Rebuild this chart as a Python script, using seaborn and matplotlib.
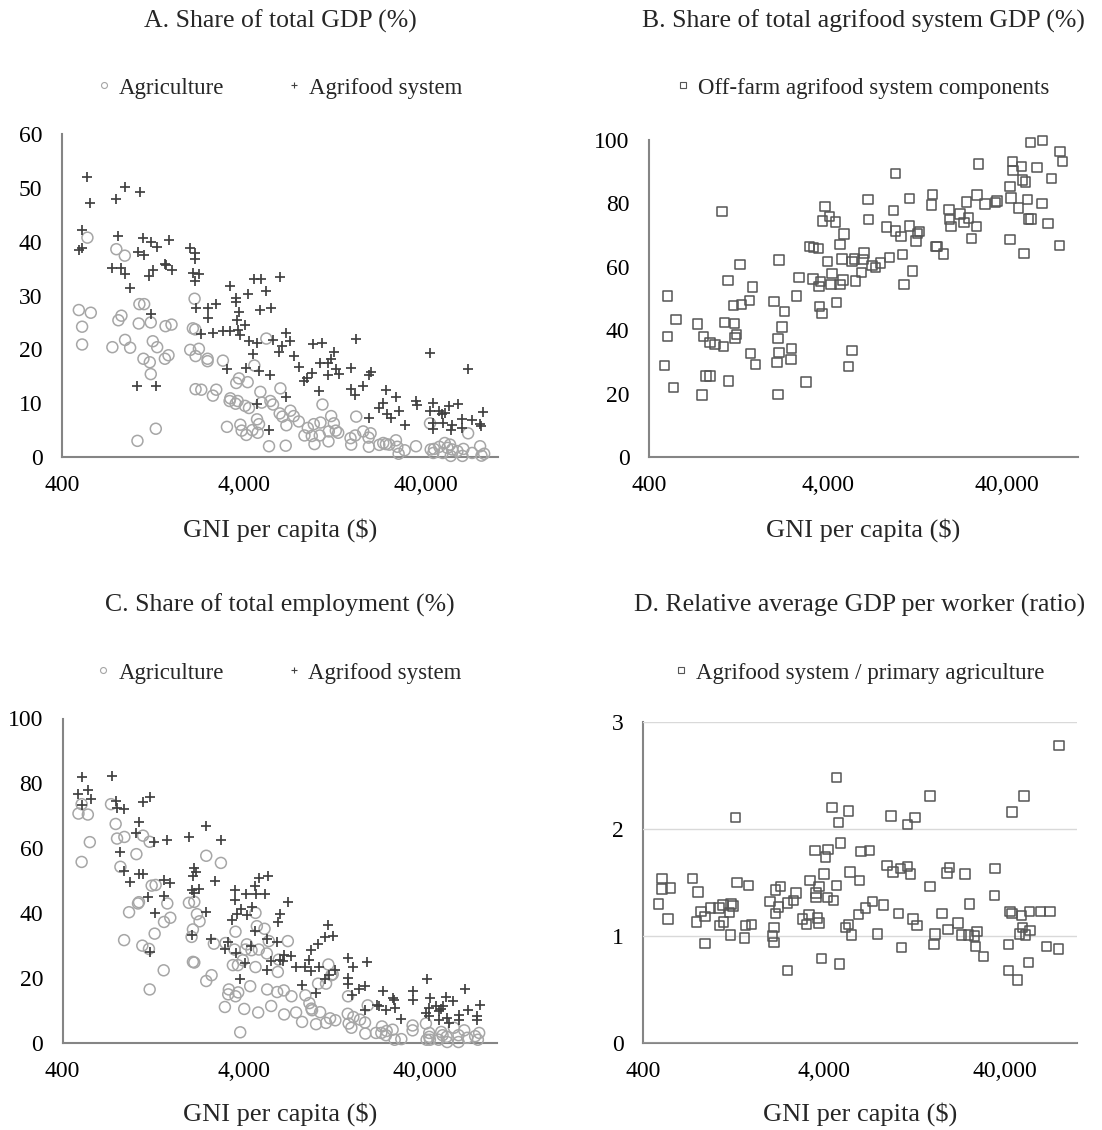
import matplotlib
matplotlib.use("Agg")
import matplotlib.pyplot as plt
from matplotlib.lines import Line2D
from matplotlib.ticker import NullLocator
import seaborn as sns

# A. share of total GDP (%)
gdp_agri_gni = [552, 495, 576, 516, 516, 796, 886, 849, 817, 757,
                889, 948, 1066, 1132, 1057, 1231, 1484, 1601, 1263, 1335,
                1122, 1216, 1472, 1541, 1231, 1040, 1312, 2144, 2098, 2162,
                2029, 2264, 2171, 2528, 2528, 3070, 2171, 2334, 2821, 2704,
                3371, 3341, 3699, 3605, 4060, 4270, 3636, 3761, 4199, 4570,
                4932, 5016, 5599, 5790, 5320, 6357, 4728, 4848, 4455, 4768,
                3827, 3892, 4128, 3231, 5503, 6800, 6300, 6519, 7217, 7528,
                6857, 8021, 8992, 9703, 10560, 8620, 9459, 9785, 10466, 10829,
                12091, 12507, 11733, 11687, 12820, 13217, 16603, 15452, 15583, 16394,
                18140, 19916, 19415, 19492, 22226, 23380, 24188, 25232, 27460, 27937,
                28412, 30661, 35396, 42270, 42647, 44097, 44489, 47593, 50938, 54484,
                52692, 55902, 54968, 49627, 59821, 63717, 64528, 68492, 72054, 79727,
                81120, 83912]
gdp_agri_share = [40.75, 27.3, 26.8, 24.2, 20.9, 38.6, 37.4, 26.25, 25.4, 20.4,
                  21.75, 20.3, 28.4, 28.4, 24.8, 25, 24.3, 24.6, 21.5, 20.4,
                  18.25, 17.6, 18.25, 18.9, 15.4, 3, 5.25, 29.4, 23.9, 23.7,
                  19.9, 20.1, 18.75, 18.25, 17.8, 17.9, 12.6, 12.5, 12.5, 11.4,
                  10.9, 10.4, 10.4, 9.9, 9.5, 9.1, 13.75, 14.6, 13.9, 17,
                  12.1, 10.1, 10.4, 9.75, 22, 12.75, 7, 6.1, 5, 4.5,
                  6, 4.9, 4.1, 5.6, 2, 2.1, 8.1, 7.5, 8.6, 7.6,
                  5.9, 6.6, 5.4, 6.1, 6.4, 4, 3.9, 2.4, 4, 9.75,
                  7.6, 6.25, 4.75, 2.9, 4.9, 4.5, 7.5, 3.5, 2.3, 4,
                  4.75, 4.4, 3.6, 1.9, 2.25, 2.6, 2.4, 2.3, 3.1, 1.9,
                  0.6, 1.25, 2, 6.25, 1.4, 0.75, 1.5, 1.9, 2.6, 2.3,
                  1.7, 1.4, 0.2, 0.75, 1.1, 0.2, 1.5, 4.4, 0.75, 2,
                  0.25, 0.6]
gdp_afs_gni = [552, 573, 516, 495, 516, 796, 889, 1071, 817, 757,
               849, 889, 948, 1053, 1132, 1122, 1231, 1340, 1541, 1263,
               1206, 1472, 1490, 1601, 1231, 1031, 1312, 2029, 2144, 2162,
               2098, 2264, 2162, 2171, 2324, 2539, 2539, 2797, 2704, 3070,
               3371, 3371, 3636, 3605, 3761, 3668, 4043, 3699, 3827, 4199,
               4570, 4995, 5320, 4932, 5647, 4270, 4728, 5790, 6357, 6800,
               7153, 6248, 6519, 4491, 3231, 4128, 4848, 5550, 7528, 8021,
               4728, 6800, 5503, 9617, 10829, 8620, 8916, 9459, 10560, 10426,
               11641, 11989, 12507, 11641, 12932, 13268, 16603, 15515, 15452, 16257,
               19415, 19916, 18070, 19415, 24188, 23380, 22226, 27460, 28412, 24607,
               25888, 30661, 35396, 35690, 42270, 44097, 42270, 47593, 49240, 51367,
               53588, 60598, 44097, 43713, 49627, 55902, 54968, 63717, 63717, 72054,
               68798, 79727, 83171, 81120]
gdp_afs_share = [52.1, 47.1, 42.1, 38.4, 38.9, 47.9, 50.1, 49.2, 41.1, 35.1,
                 35.2, 34, 31.4, 38.1, 37.5, 40.75, 39.9, 39, 40.25, 34.8,
                 33.6, 35.9, 35.6, 34.7, 26.6, 13.1, 13.25, 38.9, 37.9, 36.8,
                 34.2, 34, 32.75, 27.75, 22.9, 27.75, 25.75, 28.4, 23.1, 23.4,
                 31.7, 23.4, 29.5, 28.75, 26.9, 25.4, 24.6, 23.6, 22.6, 30.3,
                 33.1, 33.1, 30.9, 27.25, 27.6, 21.5, 21.1, 21.8, 33.4, 23.1,
                 21.5, 19.5, 20.7, 19.2, 16.4, 16.5, 16, 15.25, 18.75, 16.8,
                 9.9, 11.2, 5.1, 20.9, 21.2, 14.1, 14.6, 15.6, 17.5, 12.2,
                 17.4, 18.25, 19.5, 15.25, 16.4, 15.4, 22, 16.5, 12.6, 11.6,
                 15.3, 15.75, 13.1, 7.25, 12.5, 10.1, 9.1, 11.1, 8.6, 8,
                 7.3, 5.9, 10.4, 9.7, 19.3, 10, 8.6, 8.6, 7.9, 8.1,
                 9.5, 9.8, 6.4, 5.25, 6.4, 5.9, 5, 7, 5.4, 6.9,
                 16.4, 6.1, 8.4, 5.75]

# B. off-farm share of agrifood system GDP (%)
offfarm_gni = [507, 507, 566, 490, 547, 745, 807, 878, 936, 1044,
               835, 878, 790, 1023, 1108, 1290, 1057, 1206, 1237, 1211,
               1186, 1312, 1459, 1515, 1117, 1472, 1574, 2003, 2135, 2292,
               2217, 2106, 2135, 2072, 2106, 2507, 2494, 2680, 2763, 3019,
               3162, 3328, 3531, 3299, 3650, 3561, 3590, 3716, 3843, 3745,
               4092, 4418, 3992, 4218, 4164, 4686, 4870, 4686, 4908, 4790,
               4474, 5458, 5621, 6276, 6382, 6172, 5716, 5458, 5232, 6717,
               6744, 7063, 7397, 7854, 8838, 8472, 9580, 9580, 9338, 10253,
               10426, 10650, 11434, 11434, 12720, 13047, 12397, 11883, 15316, 15182,
               16039, 16330, 17771, 18996, 19168, 19492, 21858, 22995, 24390, 27007,
               23788, 25345, 27234, 27797, 30135, 34656, 35242, 41575, 43009, 43372,
               42270, 41575, 48176, 49046, 50711, 46597, 52024, 52903, 54694, 49870,
               54273, 63217, 59063, 62936, 67915, 70850, 79418, 82125, 78724]
offfarm_share = [50.8, 38.0, 43.4, 28.8, 22.0, 42.0, 38.1, 36.2, 35.5, 34.9,
                 25.5, 25.5, 19.5, 77.5, 55.7, 60.7, 42.4, 42.2, 38.7, 37.6,
                 47.8, 48.1, 49.4, 53.6, 24.0, 32.6, 29.1, 49.0, 62.2, 45.9,
                 41.0, 37.3, 32.9, 29.8, 19.7, 34.3, 30.7, 50.8, 56.7, 23.6,
                 66.4, 66.0, 65.7, 56.1, 55.4, 53.8, 47.5, 45.2, 79.0, 74.4,
                 75.8, 74.1, 61.6, 57.8, 54.4, 54.4, 55.9, 67.1, 70.4, 62.4,
                 48.7, 61.6, 62.4, 62.3, 64.3, 58.2, 55.5, 33.6, 28.6, 81.2,
                 74.9, 60.5, 59.8, 61.2, 63.0, 72.5, 71.3, 89.5, 77.7, 69.6,
                 63.8, 54.4, 81.6, 72.9, 70.5, 71.2, 68.2, 58.7, 82.8, 79.5,
                 66.4, 66.4, 64.1, 78.0, 74.9, 72.7, 76.7, 73.9, 75.4, 72.7,
                 80.5, 68.9, 82.7, 92.4, 79.8, 80.3, 80.7, 85.4, 93.3, 90.3,
                 81.7, 68.6, 91.6, 87.4, 86.7, 78.5, 81.2, 75.1, 75.1, 64.2,
                 99.3, 99.8, 91.4, 80.0, 73.7, 87.9, 96.4, 93.2, 66.7]

# C. share of total employment (%)
emp_afs_gni = [510, 490, 552, 571, 510, 747, 786, 800, 878, 1108,
               1211, 1057, 1023, 1274, 1509, 835, 878, 940, 1057, 1113,
               1191, 1296, 1453, 1574, 1447, 1211, 1994, 2485, 3007, 2117,
               2189, 2098, 2063, 2264, 2117, 2763, 2485, 2080, 2649, 3286,
               3174, 3590, 3576, 4128, 3455, 3668, 3860, 4164, 4455, 4647,
               4848, 5458, 4686, 5212, 4647, 5390, 6093, 4362, 3636, 4043,
               3793, 5367, 5672, 6357, 6659, 6631, 7340, 6197, 6357, 7008,
               7784, 8692, 9219, 9422, 9459, 10253, 10466, 11291, 12397, 11687,
               12820, 11291, 11883, 8398, 10033, 15064, 15977, 15064, 15064, 19253,
               18759, 17388, 15838, 18759, 21674, 22411, 23588, 24390, 26543, 26887,
               27234, 29640, 34517, 34212, 40880, 42647, 40519, 41902, 42270, 46002,
               47990, 49240, 50063, 52226, 57343, 47593, 52903, 54009, 61316, 61855,
               66209, 69069, 77105, 77105, 80436]
emp_afs_share = [82.1, 76.7, 78.1, 75.3, 73.3, 82.3, 74.7, 72.3, 72.2, 74.3,
                 75.7, 68.2, 64.8, 62.0, 62.7, 58.9, 53.0, 49.5, 52.2, 52.0,
                 45.0, 40.1, 50.2, 49.2, 45.3, 28.1, 63.5, 66.8, 62.5, 53.8,
                 52.8, 51.5, 47.1, 47.6, 46.1, 50.0, 40.3, 33.2, 31.9, 31.2,
                 29.1, 47.1, 44.0, 45.9, 38.0, 39.9, 41.4, 39.4, 42.0, 48.3,
                 51.0, 51.6, 45.9, 45.9, 34.6, 32.2, 31.2, 29.9, 27.6, 24.5,
                 19.8, 22.4, 25.3, 25.5, 27.0, 25.3, 26.7, 37.3, 39.9, 43.5,
                 23.4, 23.4, 25.5, 22.2, 28.8, 30.4, 23.4, 32.7, 32.9, 36.5,
                 22.4, 19.8, 20.9, 17.8, 15.4, 26.1, 23.4, 20.1, 18.3, 25.0,
                 17.6, 16.5, 14.9, 10.1, 11.6, 11.3, 16.0, 10.1, 14.0, 13.2,
                 10.9, 7.5, 16.0, 13.2, 19.8, 14.0, 9.3, 10.9, 8.2, 11.3,
                 9.8, 10.6, 11.3, 14.2, 12.9, 7.2, 7.8, 6.2, 8.5, 7.0,
                 16.5, 10.3, 8.2, 7.2, 11.6]
emp_agri_gni = [510, 490, 552, 566, 510, 741, 786, 800, 878, 835,
                1023, 1113, 1211, 932, 1044, 1057, 1242, 1306, 1515, 1453,
                1574, 1290, 1103, 1200, 875, 1447, 1211, 2485, 2994, 1994,
                2135, 2208, 2283, 2098, 2063, 2739, 2098, 2135, 2659, 2485,
                3605, 3174, 3561, 4164, 4092, 4418, 4647, 4728, 5212, 5503,
                4848, 5367, 3957, 3486, 3716, 4647, 6248, 7008, 6172, 3312,
                3286, 3605, 3730, 3150, 4026, 4344, 5390, 6119, 6659, 7340,
                5672, 4808, 3827, 6687, 7784, 8398, 8761, 9219, 9459, 9534,
                10560, 10033, 11390, 10294, 11390, 11733, 12193, 12397, 11989, 12820,
                15064, 15005, 16120, 17543, 18685, 15182, 15715, 19339, 18759, 21483,
                23176, 22995, 24607, 26543, 24390, 27234, 29640, 34212, 34212, 40519,
                42270, 40880, 42647, 42270, 47593, 49240, 50063, 52692, 53140, 57830,
                61316, 61316, 65950, 68492, 75758, 78415, 79727]
emp_agri_share = [73.6, 70.7, 70.4, 61.9, 55.8, 73.6, 67.5, 63.0, 63.5, 54.3,
                  58.2, 63.9, 62.0, 40.3, 43.0, 43.4, 48.5, 48.7, 43.0, 37.3,
                  38.6, 33.7, 30.0, 29.0, 31.7, 22.4, 16.5, 57.7, 55.5, 43.2,
                  43.5, 39.7, 37.5, 35.0, 32.7, 30.6, 25.0, 24.8, 20.9, 19.1,
                  34.3, 30.8, 28.8, 30.4, 28.8, 28.6, 40.1, 36.0, 35.2, 31.4,
                  28.8, 27.6, 25.5, 24.0, 24.0, 23.4, 25.7, 31.4, 21.9, 16.5,
                  15.0, 14.4, 15.6, 11.1, 10.5, 17.5, 16.5, 15.7, 16.2, 14.4,
                  11.4, 9.4, 3.3, 8.8, 9.4, 6.5, 14.7, 12.3, 10.6, 10.1,
                  9.5, 5.8, 6.2, 18.3, 18.3, 24.2, 20.9, 21.2, 7.6, 7.0,
                  14.4, 9.0, 8.0, 7.2, 6.3, 6.0, 4.7, 11.6, 2.9, 3.1,
                  5.1, 3.1, 3.7, 4.1, 2.4, 1.0, 1.2, 5.4, 3.9, 6.0,
                  3.1, 1.0, 1.0, 1.9, 1.0, 3.4, 2.4, 1.9, 0.3, 4.7,
                  2.4, 0.3, 3.9, 1.6, 2.1, 1.0, 3.1]

# D. relative GDP per worker, agrifood system / primary agriculture
ratio_gni = [488, 510, 510, 566, 549, 750, 807, 790, 838, 882,
             882, 944, 1053, 1108, 1226, 1258, 1206, 1062, 1117, 1221,
             1296, 1322, 1528, 1472, 1587, 1459, 2011, 2153, 2304, 2153,
             2246, 2507, 2704, 2797, 2117, 2080, 2117, 2507, 3032, 3202,
             3312, 3354, 3561, 4218, 4076, 4008, 3761, 3621, 3621, 4182,
             4509, 4704, 3683, 3745, 3876, 4435, 4704, 4808, 5480, 4953,
             5571, 6276, 6411, 7125, 6221, 6770, 7434, 5458, 5253, 5694,
             4889, 8504, 7921, 9380, 8916, 9617, 10560, 11590, 11989, 10294,
             10740, 11590, 12720, 12397, 13047, 15375, 15375, 16458, 16188, 17911,
             19816, 19168, 24083, 19339, 21956, 25542, 23086, 25124, 27127, 28049,
             27582, 30524, 35242, 34966, 43713, 50938, 42647, 43713, 49240, 54484,
             62936, 70850, 50063, 47990, 51771, 54968, 41902, 41902, 46806, 54009,
             67915, 79066, 79727]
ratio_val = [1.30, 1.54, 1.44, 1.45, 1.16, 1.54, 1.41, 1.13, 1.23, 1.18,
             0.93, 1.26, 1.26, 1.29, 1.30, 1.28, 1.22, 1.10, 1.13, 1.01,
             2.11, 1.50, 1.47, 1.10, 1.11, 0.98, 1.32, 1.43, 1.46, 1.21,
             1.27, 1.31, 1.33, 1.40, 1.08, 1.00, 0.94, 0.68, 1.16, 1.11,
             1.20, 1.52, 1.80, 1.81, 1.74, 1.58, 1.46, 1.40, 1.36, 1.36,
             1.33, 1.47, 1.17, 1.12, 0.79, 2.20, 2.48, 2.06, 2.17, 1.87,
             1.60, 1.52, 1.79, 1.80, 1.20, 1.26, 1.32, 1.11, 1.08, 1.01,
             0.74, 1.29, 1.02, 2.12, 1.66, 1.60, 1.63, 1.65, 1.58, 1.21,
             0.89, 2.04, 2.11, 1.16, 1.10, 2.31, 1.46, 1.02, 0.92, 1.21,
             1.64, 1.59, 1.58, 1.06, 1.12, 1.30, 1.01, 1.01, 1.00, 1.04,
             0.90, 0.81, 1.63, 1.38, 2.16, 2.31, 1.23, 1.21, 1.19, 1.23,
             1.23, 1.23, 1.08, 1.02, 1.01, 1.05, 0.92, 0.68, 0.59, 0.75,
             0.90, 0.88, 2.78]

x_ticks = [400, 4000, 40000]
x_labels = ["400", "4,000", "40,000"]

sns.set_theme(style="white")
plt.rcParams['font.family'] = ['Liberation Serif', 'DejaVu Serif']

W, H = 1102, 1130
fig = plt.figure(figsize=(W / 100, H / 100), dpi=100)


def box(l, r, b, t):
    # pixel edges -> figure fraction
    return [l / W, 1 - b / H, (r - l) / W, (b - t) / H]


axA = fig.add_axes(box(62, 498, 457, 134))
axB = fig.add_axes(box(649, 1078, 457, 140))
axC = fig.add_axes(box(62.5, 497, 1043, 718.5))
axD = fig.add_axes(box(643, 1077, 1043, 722))

circ = dict(marker="o", s=62, facecolor="none", edgecolor="#a6a6a6", linewidth=1.1, clip_on=False)
plus = dict(marker="+", s=42, color="#404040", linewidth=1.25, clip_on=False)
sq = dict(marker="s", s=46, facecolor="none", edgecolor="#555555", linewidth=1.1, clip_on=False)

sns.scatterplot(x=gdp_agri_gni, y=gdp_agri_share, ax=axA, **circ)
sns.scatterplot(x=gdp_afs_gni, y=gdp_afs_share, ax=axA, **plus)
sns.scatterplot(x=offfarm_gni, y=offfarm_share, ax=axB, **sq)
sns.scatterplot(x=emp_agri_gni, y=emp_agri_share, ax=axC, **circ)
sns.scatterplot(x=emp_afs_gni, y=emp_afs_share, ax=axC, **plus)
sns.scatterplot(x=ratio_gni, y=ratio_val, ax=axD, **sq)

panels = [
    (axA, (0, 60), [0, 10, 20, 30, 40, 50, 60]),
    (axB, (0, 100), [0, 20, 40, 60, 80, 100]),
    (axC, (0, 100), [0, 20, 40, 60, 80, 100]),
    (axD, (0, 3), [0, 1, 2, 3]),
]
for ax, ylim, yt in panels:
    ax.set_xscale("log")
    ax.set_xlim(400, 100000)
    ax.set_ylim(*ylim)
    ax.set_xticks(x_ticks)
    ax.set_xticklabels(x_labels)
    ax.xaxis.set_minor_locator(NullLocator())
    ax.set_yticks(yt)
    ax.set_yticklabels([str(v) for v in yt])
    ax.tick_params(axis="x", length=0, pad=13, labelsize=17, colors="black")
    ax.tick_params(axis="y", length=0, pad=14, labelsize=17, colors="black")
    for side in ["top", "right"]:
        ax.spines[side].set_visible(False)
    for side in ["left", "bottom"]:
        ax.spines[side].set_color("#858585")
        ax.spines[side].set_linewidth(1.5)
        ax.spines[side].set_zorder(0.5)
    ax.set_facecolor("none")
    ax.set_xlabel("")
    ax.set_ylabel("")

axD.yaxis.grid(True, color="#d9d9d9", linewidth=1)
axD.set_axisbelow(True)

titles = [
    (axA, "A. Share of total GDP (%)", 21),
    (axB, "B. Share of total agrifood system GDP (%)", 21),
    (axC, "C. Share of total employment (%)", 605),
    (axD, "D. Relative average GDP per worker (ratio)", 605),
]
for ax, t, y in titles:
    pos = ax.get_position()
    cx = (pos.x0 + pos.x1) / 2
    fig.text(cx, 1 - y / H, t, ha="center", va="center", fontsize=18.5)
    ylab = 530 if y < 300 else 1114
    fig.text(cx, 1 - ylab / H, "GNI per capita ($)", ha="center", va="center", fontsize=19)

h_circ = Line2D([], [], ls="none", marker="o", markersize=4.3, markerfacecolor="none",
                markeredgecolor="#a6a6a6", markeredgewidth=0.8)
h_plus = Line2D([], [], ls="none", marker="+", markersize=5, markeredgecolor="#404040",
                markeredgewidth=0.8)
h_sq = Line2D([], [], ls="none", marker="s", markersize=5, markerfacecolor="none",
              markeredgecolor="#555555", markeredgewidth=0.8)

legends = [
    (axA, [h_circ, h_plus], ["Agriculture", "Agrifood system"], 88),
    (axB, [h_sq], ["Off-farm agrifood system components"], 88),
    (axC, [h_circ, h_plus], ["Agriculture", "Agrifood system"], 673),
    (axD, [h_sq], ["Agrifood system / primary agriculture"], 673),
]
for ax, hs, ls, y in legends:
    pos = ax.get_position()
    cx = (pos.x0 + pos.x1) / 2
    ax.legend(hs, ls, loc="center", bbox_to_anchor=(cx, 1 - y / H),
              bbox_transform=fig.transFigure, ncol=len(hs), frameon=False,
              fontsize=16.5, handlelength=0.5, handletextpad=0.4,
              columnspacing=2.8, borderpad=0)

fig.savefig("out.png", dpi=100, facecolor="white")
